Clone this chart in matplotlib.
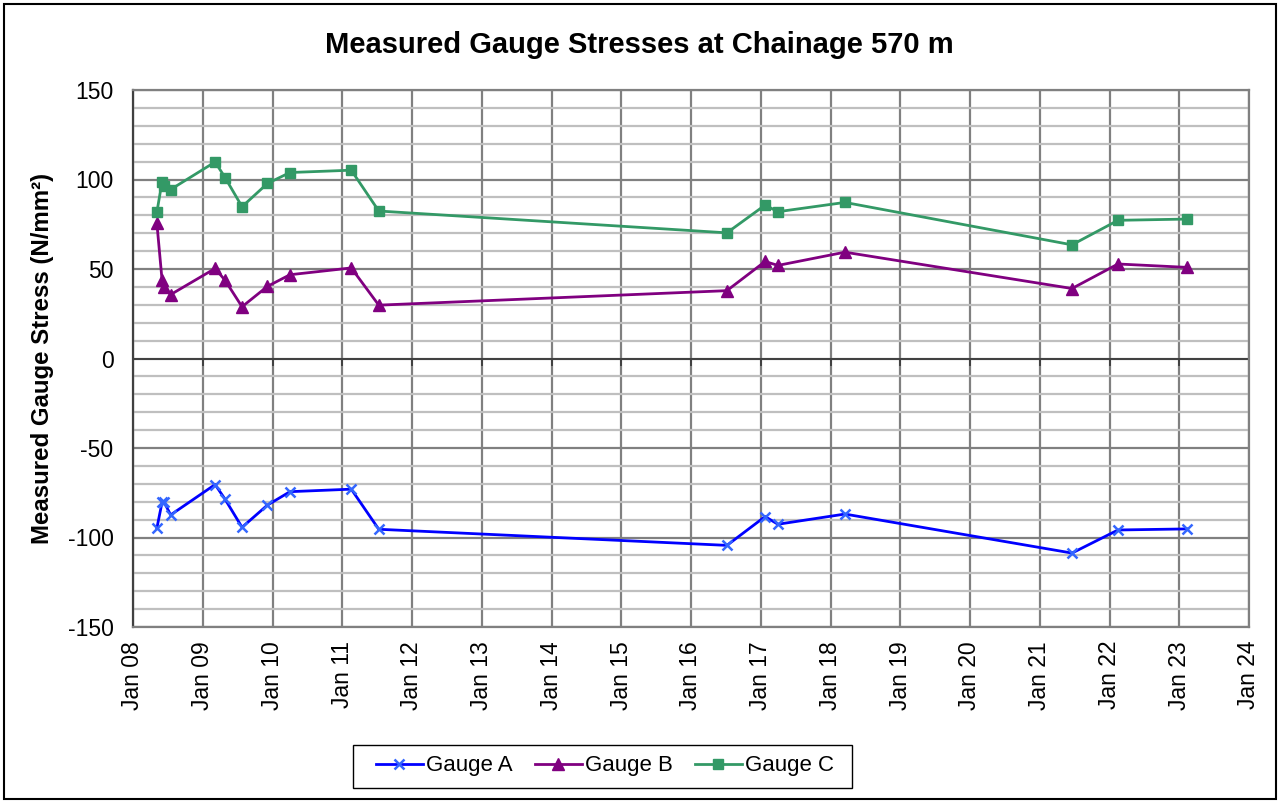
import matplotlib
matplotlib.use("Agg")
import matplotlib.pyplot as plt
import matplotlib.dates as mdates
from matplotlib.ticker import MultipleLocator
from matplotlib.patches import Rectangle
import datetime as dt

plt.rcParams['font.family'] = ['Liberation Sans', 'DejaVu Sans']
plt.rcParams['axes.unicode_minus'] = False

dates = ["2008-05-05", "2008-06-01", "2008-06-11", "2008-07-16", "2009-03-06",
         "2009-04-27", "2009-07-25", "2009-12-05", "2010-04-02", "2011-02-17",
         "2011-07-11", "2016-07-07", "2017-01-23", "2017-03-31", "2018-03-17",
         "2021-06-18", "2022-02-14", "2023-02-12"]
gauge_a = [-94.8, -80.4, -80.0, -87.4, -70.4, -78.6, -94.3, -81.9, -74.4, -73.0,
           -95.4, -104.4, -88.3, -92.6, -86.9, -108.7, -95.8, -95.2]
gauge_b = [75.6, 44.0, 40.0, 35.7, 50.3, 43.7, 28.9, 40.3, 46.8, 50.6,
           29.8, 37.9, 54.2, 52.0, 59.4, 39.1, 52.8, 50.9]
gauge_c = [81.7, 98.7, 96.5, 94.4, 109.8, 101.1, 84.8, 97.8, 103.9, 105.2,
           82.4, 70.2, 85.7, 82.0, 87.2, 63.5, 77.2, 77.9]

title = "Measured Gauge Stresses at Chainage 570 m"
ylabel = "Measured Gauge Stress (N/mm²)"

x = [dt.datetime.strptime(d, "%Y-%m-%d") for d in dates]

fig = plt.figure(figsize=(12.79, 8.02), dpi=100)
ax = fig.add_axes([133/1279, 1-627/802, (1249-133)/1279, (627-90)/802])

ax.set_ylim(-150, 150)
ax.set_xlim(dt.datetime(2008, 1, 1), dt.datetime(2024, 1, 1))
ax.yaxis.set_major_locator(MultipleLocator(50))
ax.yaxis.set_minor_locator(MultipleLocator(10))
ax.xaxis.set_major_locator(mdates.YearLocator())
ax.xaxis.set_major_formatter(mdates.DateFormatter("%b %y"))
ax.grid(which='minor', axis='y', color='#BFBFBF', linewidth=1.6, zorder=0)
ax.grid(which='major', axis='y', color='#808080', linewidth=1.6, zorder=0)
ax.grid(which='major', axis='x', color='#808080', linewidth=1.6, zorder=0)
ax.set_axisbelow(True)

for s in ['top', 'right', 'bottom']:
    ax.spines[s].set_color('#808080')
    ax.spines[s].set_linewidth(1.6)
ax.spines['left'].set_color('#404040')
ax.spines['left'].set_linewidth(1.6)

ax.axhline(0, color='#404040', linewidth=1.4, zorder=1)
for xi in mdates.date2num([dt.datetime(y, 1, 1) for y in range(2008, 2025)]):
    ax.plot([xi, xi], [0, -3.5], color='#404040', linewidth=1.4, zorder=1, clip_on=False)

ax.tick_params(axis='y', which='both', length=0, labelsize=16.5, pad=14)
ax.tick_params(axis='x', which='both', length=0, labelsize=16.5, pad=10)
for lab in ax.get_xticklabels():
    lab.set_rotation(90)

ax.plot(x, gauge_a, color='#0000FF', linewidth=2.0, marker='x', markersize=7,
        markeredgecolor='#3366FF', markeredgewidth=1.8, label='Gauge A', zorder=3)
ax.plot(x, gauge_b, color='#800080', linewidth=2.0, marker='^', markersize=8,
        markerfacecolor='#800080', markeredgecolor='#800080', label='Gauge B', zorder=3)
ax.plot(x, gauge_c, color='#339966', linewidth=2.0, marker='s', markersize=7.5,
        markerfacecolor='#339966', markeredgecolor='#339966', label='Gauge C', zorder=3)

ax.set_ylabel(ylabel, fontsize=17.3, fontweight='bold', labelpad=10)
fig.text(0.5, 1-45/802, title, ha='center', va='center', fontsize=21, fontweight='bold')

leg = fig.legend(loc='center', bbox_to_anchor=(605/1279, 1-766/802), ncol=3,
                 fontsize=16, frameon=False,
                 handlelength=2.1, columnspacing=1.0, handletextpad=0.15,
                 borderpad=0.3, borderaxespad=0)
fig.patches.append(Rectangle((353/1279, 1-788/802), 499/1279, 43/802, transform=fig.transFigure,
                             fill=False, edgecolor='black', linewidth=1.0))

fig.patches.append(Rectangle((4/1279, 3/802), 1272/1279, 795/802, transform=fig.transFigure,
                             fill=False, edgecolor='black', linewidth=1.5))

fig.savefig("out.png", dpi=100)
